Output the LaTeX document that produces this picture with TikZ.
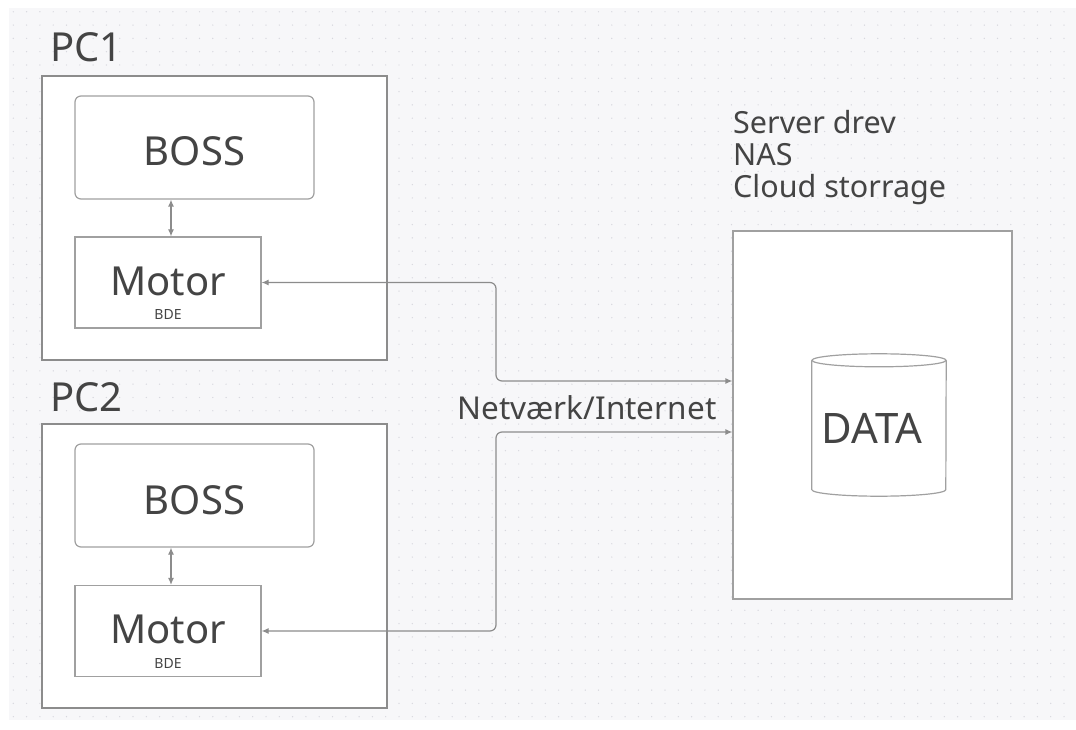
\documentclass[tikz,border=0pt]{standalone}
\usepackage{fontspec}
\setmainfont{Noto Sans}
\definecolor{canvasgray}{RGB}{247, 247, 249}
\definecolor{dotgray}{RGB}{215, 215, 222}
\definecolor{linegray}{RGB}{140, 140, 140}
\definecolor{boxgray}{RGB}{160, 160, 160}
\definecolor{textgray}{RGB}{68, 68, 68}
\usetikzlibrary{shapes.geometric, arrows.meta, positioning, calc, patterns.meta}

\begin{document}
\begin{tikzpicture}[x=1pt, y=-1pt,
  pcbox/.style={draw=linegray, fill=white, line width=1.2pt, minimum width=345pt, minimum height=284pt, inner sep=0pt},
  bossbox/.style={draw=boxgray, fill=white, line width=1.2pt, rounded corners=6pt, minimum width=239pt, minimum height=103pt, text height=37pt, text depth=0pt, font=\fontsize{40}{44}\selectfont, text=textgray},
  motorbox/.style={draw=boxgray, fill=white, line width=1.2pt, minimum width=186pt, minimum height=91pt, inner sep=0pt},
  biarrow/.style={draw=linegray, line width=1.2pt, {Latex[length=7pt, width=6pt]}-{Latex[length=7pt, width=6pt]}},
  title/.style={font=\fontsize{40}{44}\selectfont, text=textgray, anchor=base west, inner sep=0pt}]
  % Canvas
  \useasboundingbox (0,0) rectangle (1076,730);
  \fill[white] (0,0) rectangle (1076,730);
  \fill[canvasgray] (9,8) rectangle (1076,720);
  \pattern[pattern={Dots[distance=13.3pt, radius=0.7pt]}, pattern color=dotgray] (9,8) rectangle (1076,720);

  % PC1
  \node[title] (pc1label) at (50,62) {PC1};
  \node[pcbox] (pc1) at (214.5,218) {};
  \node[bossbox] (boss1) at (194.5,147.5) {BOSS};
  \node[motorbox] (motor1) at (168,282.5) {};
  \node[font=\fontsize{40}{44}\selectfont, text=textgray] (motor1txt) at (168,281) {Motor};
  \node[font=\fontsize{14}{16}\selectfont, text=textgray] (bde1) at (168,315) {BDE};

  % PC2
  \node[title] (pc2label) at (50,411) {PC2};
  \node[pcbox] (pc2) at (214.5,566) {};
  \node[bossbox] (boss2) at (194.5,495.5) {BOSS};
  \node[motorbox] (motor2) at (168,631) {};
  \node[font=\fontsize{40}{44}\selectfont, text=textgray] (motor2txt) at (168,629.5) {Motor};
  \node[font=\fontsize{14}{16}\selectfont, text=textgray] (bde2) at (168,663) {BDE};

  % Storage
  \node[font=\fontsize{30.5}{32}\selectfont, text=textgray, align=left, anchor=south west, inner sep=0pt] (storelabel) at (733,205)
    {Server drev\\NAS\\Cloud storrage};
  \node[draw=boxgray, fill=white, line width=1.2pt, minimum width=279pt, minimum height=368pt, inner sep=0pt] (server) at (872.5,415) {};
  \node[minimum width=134pt, minimum height=142pt, inner sep=0pt] (data) at (879,425) {};
  \filldraw[draw=boxgray, fill=white, line width=1.2pt] ($(data.north west)+(0,6.5)$) -- ($(data.south west)+(0,-6.5)$)
    arc[start angle=180, end angle=360, x radius=67pt, y radius=6.5pt] -- ($(data.north east)+(0,6.5)$);
  \filldraw[draw=boxgray, fill=white, line width=1.2pt] ($(data.north)+(0,6.5)$) ellipse[x radius=67pt, y radius=6.5pt];
  \node[font=\fontsize{42}{46}\selectfont, text=textgray] (datatxt) at (872,428) {DATA};
  \coordinate (in1) at (server.west |- 0,381);
  \coordinate (in2) at (server.west |- 0,432);

  % Links
  \draw[biarrow] (boss1.south -| 171,0) -- (motor1.north -| 171,0);
  \draw[biarrow] (boss2.south -| 171,0) -- (motor2.north -| 171,0);
  \draw[biarrow, rounded corners=6pt] (motor1.east) -| (496,332) |- (in1);
  \draw[biarrow, rounded corners=6pt] (motor2.east) -| (496,530) |- (in2);
  \node[font=\fontsize{31.5}{34}\selectfont, text=textgray] (net) at (587,408) {Netværk/Internet};
\end{tikzpicture}
\end{document}
